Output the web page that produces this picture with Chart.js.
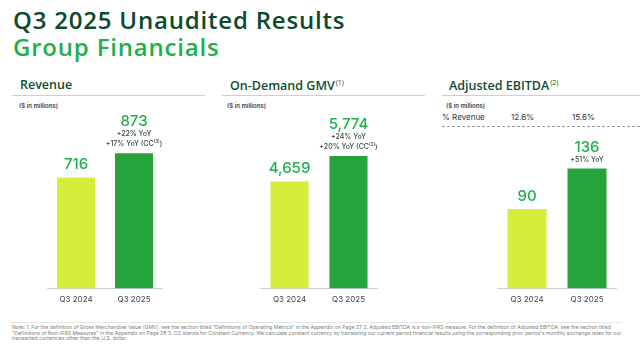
<!DOCTYPE html>
<html>
<head>
<meta charset="utf-8">
<script src="https://cdn.jsdelivr.net/npm/chart.js@4"></script>
<style>
  body { margin: 0; width: 640px; height: 353px; overflow: hidden; background: #fff; position: relative; font-family: Inter, "Open Sans", sans-serif; }
  .abs { position: absolute; white-space: nowrap; }
  .title { font-family: "Open Sans", sans-serif; font-weight: 600; font-size: 24px; line-height: 1; letter-spacing: 0.8px; left: 13px; }
  .head { font-family: "Open Sans", sans-serif; font-weight: 600; font-size: 12.5px; color: #0d4f30; line-height: 1; top: 79px; }
  .head sup { font-size: 7px; font-weight: 500; vertical-align: 5px; margin-left: 1px; }
  .rule { position: absolute; height: 1px; background: #cfcfcf; top: 95px; }
  .unit { font-size: 6px; font-weight: 600; color: #444; top: 102px; }
  .margin { font-size: 8px; color: #333; top: 112px; }
  .note { left: 12px; top: 325px; font-size: 5.1px; line-height: 5.6px; color: #808080; white-space: nowrap; }
  canvas { position: absolute; }
</style>
</head>
<body>
<div class="abs title" style="top:8px;color:#0c4a2d;">Q3 2025 Unaudited Results</div>
<div class="abs title" style="top:35px;color:#1fb04c;">Group Financials</div>

<div class="abs head" style="left:20px;">Revenue</div>
<div class="rule" style="left:12px;width:193px;"></div>
<div class="abs unit" style="left:19px;">($ in millions)</div>

<div class="abs head" style="left:230px;">On-Demand GMV<sup>(1)</sup></div>
<div class="rule" style="left:222px;width:203px;"></div>
<div class="abs unit" style="left:227px;">($ in millions)</div>

<div class="abs head" style="left:449px;">Adjusted EBITDA<sup>(2)</sup></div>
<div class="rule" style="left:442px;width:198px;"></div>
<div class="abs unit" style="left:446px;">($ in millions)</div>
<div class="abs margin" style="left:442px;">% Revenue</div>
<div class="abs margin" id="m0" style="left:511px;"></div>
<div class="abs margin" id="m1" style="left:572px;"></div>
<div class="abs" style="left:442px;top:126px;width:198px;border-top:1px dashed #9a9a9a;"></div>

<canvas id="revenueChart" width="116" height="205" style="left:47px;top:105px;"></canvas>
<canvas id="gmvChart" width="118" height="205" style="left:260px;top:105px;"></canvas>
<canvas id="ebitdaChart" width="120" height="205" style="left:497px;top:105px;"></canvas>

<div class="abs" style="left:10px;top:322px;width:612px;height:1px;background:#e6e6e6;"></div>
<div class="abs note">Note: 1. For the definition of Gross Merchandise Value (GMV), see the section titled "Definitions of Operating Metrics" in the Appendix on Page 27 2. Adjusted EBITDA is a non-IFRS measure. For the definition of Adjusted EBITDA, see the section titled<br>"Definitions of Non-IFRS Measures" in the Appendix on Page 28 3. CC stands for Constant Currency. We calculate constant currency by translating our current period financial results using the corresponding prior period's monthly exchange rates for our<br>transacted currencies other than the U.S. dollar.</div>

<script>
const quarters = ['Q3 2024', 'Q3 2025'];
const revenue = [716, 873];
const gmv = [4659, 5774];
const ebitda = [90, 136];
// '^' marks a superscript footnote
const revenueGrowth = ['+22% YoY', '+17% YoY (CC^(3)^)'];
const gmvGrowth = ['+24% YoY', '+20% YoY (CC^(3)^)'];
const ebitdaGrowth = ['+51% YoY'];
const ebitdaMargin = ['12.6%', '15.6%'];

const barColors = ['#d4ed3a', '#26a33b'];
const labelGreen = '#1fb04c';

document.getElementById('m0').textContent = ebitdaMargin[0];
document.getElementById('m1').textContent = ebitdaMargin[1];

function drawRich(ctx, text, x, y) {
    const parts = text.split('^');
    const fonts = parts.map((_, i) => i % 2 ? '500 4.5px Inter' : '500 7px Inter');
    let w = 0;
    parts.forEach((p, i) => { ctx.font = fonts[i]; w += ctx.measureText(p).width; });
    let cx = x - w / 2;
    ctx.textAlign = 'left';
    ctx.fillStyle = '#34473a';
    parts.forEach((p, i) => {
        ctx.font = fonts[i];
        ctx.fillText(p, cx, i % 2 ? y - 2.5 : y);
        cx += ctx.measureText(p).width;
    });
}

const barLabels = {
    id: 'barLabels',
    afterDatasetsDraw(chart, args, opts) {
        const ctx = chart.ctx;
        const meta = chart.getDatasetMeta(0);
        meta.data.forEach((bar, i) => {
            const lines = i === meta.data.length - 1 ? opts.growth : [];
            let y = bar.y - 9;
            ctx.save();
            ctx.textBaseline = 'middle';
            for (let k = lines.length - 1; k >= 0; k--) {
                drawRich(ctx, lines[k], bar.x, y);
                y -= 10;
            }
            const valueY = lines.length ? y - 2.5 : bar.y - 13;
            ctx.font = '500 15px Inter';
            ctx.fillStyle = labelGreen;
            ctx.textAlign = 'center';
            ctx.fillText(chart.data.datasets[0].data[i].toLocaleString('en-US'), bar.x, valueY);
            ctx.restore();
        });
    }
};

function makeChart(id, values, growth, yMax, barPct) {
    const ctx = document.getElementById(id).getContext('2d');
    new Chart(ctx, {
        type: 'bar',
        data: {
            labels: quarters,
            datasets: [{
                data: values,
                backgroundColor: barColors,
                barPercentage: barPct,
                categoryPercentage: 1
            }]
        },
        options: {
            responsive: false,
            animation: false,
            layout: { padding: 0 },
            plugins: {
                legend: { display: false },
                tooltip: { enabled: false },
                barLabels: { growth: growth }
            },
            scales: {
                x: {
                    grid: { display: false, drawTicks: false },
                    border: { display: true, color: '#d0d0d0' },
                    ticks: { color: '#444', font: { size: 8, family: 'Inter' }, padding: 6 }
                },
                y: { display: false, min: 0, max: yMax }
            }
        },
        plugins: [barLabels]
    });
}

makeChart('revenueChart', revenue, revenueGrowth, 1185, 0.655);
makeChart('gmvChart', gmv, gmvGrowth, 7993, 0.645);
makeChart('ebitdaChart', ebitda, ebitdaGrowth, 208, 0.65);
</script>
</body>
</html>
